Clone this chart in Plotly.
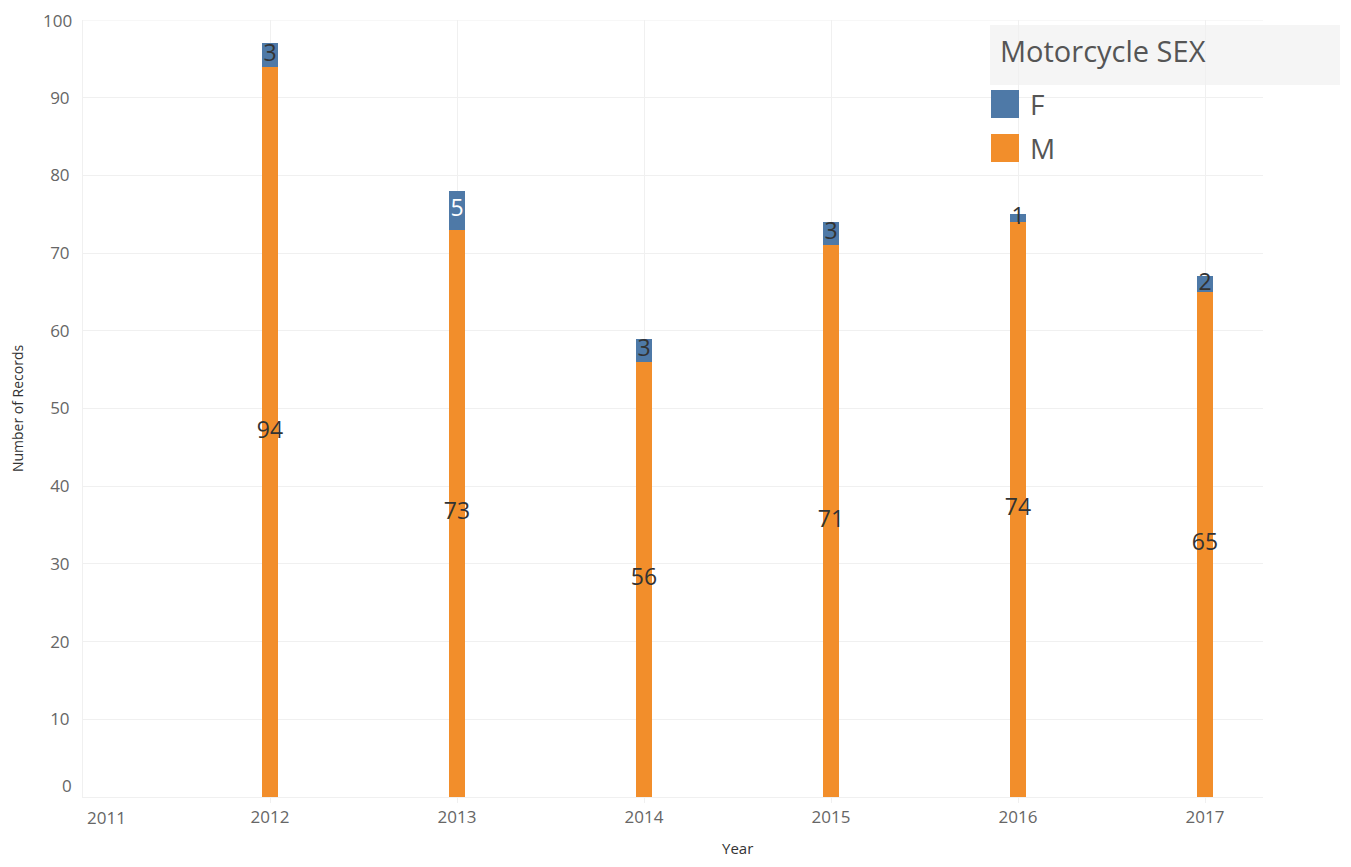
import plotly.graph_objects as go

years = [2012, 2013, 2014, 2015, 2016, 2017]
male = [94, 73, 56, 71, 74, 65]
female = [3, 5, 3, 3, 1, 2]
f_label_colors = ["#333333", "#ffffff", "#333333", "#333333", "#333333", "#333333"]
y_ticks = [10, 20, 30, 40, 50, 60, 70, 80, 90]
x_ticks = [2012, 2013, 2014, 2015, 2016, 2017]

C_F = "#4e79a7"
C_M = "#f28e2b"
FONT = "Open Sans"

OFF = 8  # page body margin
L, R, T, B = 83, 1263, 20, 797  # plot area in screenshot coords
W, H = 1351 - 2 * OFF, 867 - 2 * OFF

def px(x):
    return (x - L) / (R - L)

def py(y):
    return (B - y) / (B - T)

fig = go.Figure()
fig.add_trace(go.Bar(x=years, y=male, name="M", marker_color=C_M, width=0.09,
                     marker_line_width=0, hoverinfo="x+y"))
fig.add_trace(go.Bar(x=years, y=female, name="F", marker_color=C_F, width=0.09,
                     marker_line_width=0, hoverinfo="x+y"))

# value labels
fig.add_trace(go.Scatter(x=years, y=[m / 2 for m in male], mode="text",
                         text=[str(m) for m in male],
                         textfont=dict(size=23, color="#333333", family=FONT),
                         hoverinfo="skip", cliponaxis=False))
fig.add_trace(go.Scatter(x=years, y=[m + f / 2 for m, f in zip(male, female)], mode="text",
                         text=[str(f) for f in female],
                         textfont=dict(size=23, color=f_label_colors, family=FONT),
                         hoverinfo="skip", cliponaxis=False))

fig.update_layout(
    barmode="stack",
    width=W, height=H,
    autosize=False,
    margin=dict(l=L - OFF, r=W - (R - OFF), t=T - OFF, b=H - (B - OFF), pad=0),
    plot_bgcolor="white", paper_bgcolor="white",
    showlegend=False,
    font=dict(family=FONT, color="#666666"),
    xaxis=dict(range=[2011, 2017.31], tickvals=x_ticks, ticktext=[str(t) for t in x_ticks],
               showgrid=True, gridcolor="#f0f0f0", gridwidth=1, zeroline=False,
               tickfont=dict(size=17, color="#666666"), automargin=False,
               ticks="outside", ticklen=5, tickcolor="#f0f0f0",
               showline=True, linecolor="#f0f0f0"),
    yaxis=dict(range=[0, 100], tickvals=y_ticks, showgrid=True, gridcolor="#f0f0f0",
               zeroline=False, tickfont=dict(size=17, color="#666666"), automargin=False,
               showline=True, linecolor="#f0f0f0", mirror=False, ticks="",
               ticklabelstandoff=9,
               title=dict(text="Number of Records", font=dict(size=14, color="#333333"),
                          standoff=24)),
    bargap=0,
)

# top gridline at 100 (the axis range edge)
fig.add_shape(type="line", xref="paper", yref="y", x0=0, x1=1, y0=100, y1=100,
              line=dict(color="#f0f0f0", width=1), layer="below")

# edge tick labels placed as Tableau does
fig.add_annotation(x=px(74), y=py(20), xref="paper", yref="paper", text="100",
                   showarrow=False, xanchor="right", yanchor="middle",
                   font=dict(size=17, color="#666666", family=FONT))
fig.add_annotation(x=px(74), y=py(785), xref="paper", yref="paper", text="0",
                   showarrow=False, xanchor="right", yanchor="middle",
                   font=dict(size=17, color="#666666", family=FONT))
fig.add_annotation(x=px(85), y=py(817), xref="paper", yref="paper", text="2011",
                   showarrow=False, xanchor="left", yanchor="middle",
                   font=dict(size=17, color="#666666", family=FONT))

# x axis title (Tableau centres it on the view)
fig.add_annotation(x=px(737), y=py(848), xref="paper", yref="paper", text="Year",
                   showarrow=False, xanchor="center", yanchor="middle",
                   font=dict(size=15, color="#333333", family=FONT))

# custom legend
fig.add_shape(type="rect", xref="paper", yref="paper", x0=px(990), x1=px(1340),
              y0=py(85), y1=py(25), fillcolor="#f5f5f5", line_width=0, layer="below")
fig.add_annotation(x=px(998), y=py(51), xref="paper", yref="paper", text="Motorcycle SEX",
                   showarrow=False, xanchor="left", yanchor="middle",
                   font=dict(size=29, color="#555555", family=FONT))
for label, color, yc in [("F", C_F, 104), ("M", C_M, 148)]:
    fig.add_shape(type="rect", xref="paper", yref="paper", x0=px(991), x1=px(1019),
                  y0=py(yc + 14), y1=py(yc - 14), fillcolor=color, line_width=0)
    fig.add_annotation(x=px(1028), y=py(yc), xref="paper", yref="paper", text=label,
                       showarrow=False, xanchor="left", yanchor="middle",
                       font=dict(size=28, color="#555555", family=FONT))

fig.write_html("out.html")
